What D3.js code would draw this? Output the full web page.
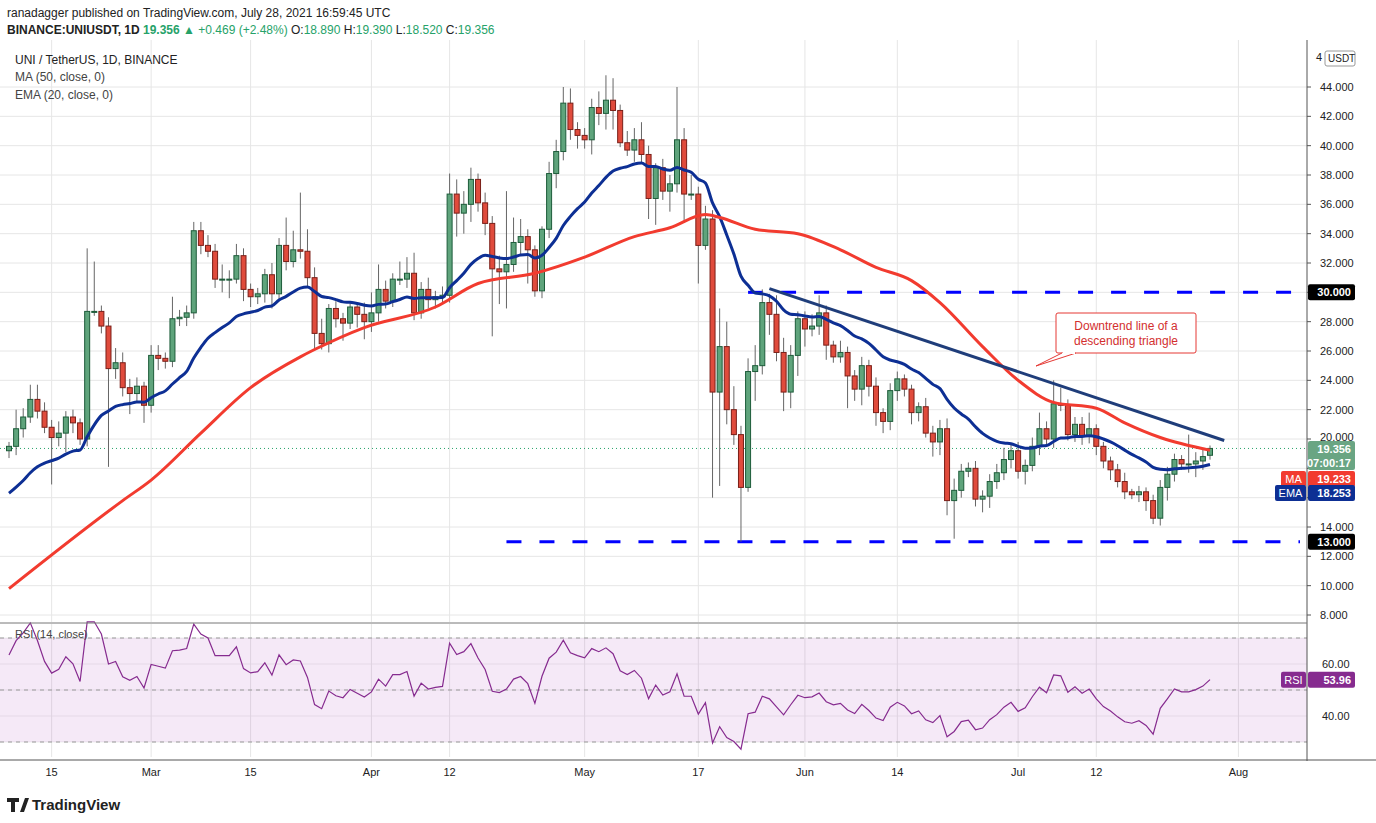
<!DOCTYPE html>
<html><head><meta charset="utf-8">
<script src="https://cdn.jsdelivr.net/npm/d3@7"></script>
<style>body{margin:0;background:#fff;font-family:"Liberation Sans",Arial,sans-serif}</style>
</head><body><svg id="c" width="1376" height="823"></svg>
<script>
// ---- data ----
const startDate = "2021-02-09";
const closes = [19.5,20.7,21.5,22.7,21.9,20.8,20.1,20.4,21.5,21.1,
20.0,28.7,28.7,27.7,24.8,25.2,23.5,23.1,23.6,22.3,
25.7,25.5,25.3,28.2,28.3,28.6,34.2,33.2,32.8,30.9,
30.9,30.9,32.5,30.2,29.7,29.9,31.2,29.9,33.2,32.1,
32.9,32.8,31.0,27.2,26.5,28.9,28.2,27.9,29.0,28.5,
28.0,28.6,30.2,29.4,30.9,30.9,31.3,28.6,30.2,29.5,
29.7,29.8,36.7,35.4,36.0,37.7,36.1,34.7,31.6,31.4,
31.9,33.4,33.8,32.9,30.1,34.3,38.1,39.6,42.9,41.1,
40.7,40.4,42.6,42.2,43.1,42.4,40.2,39.7,40.4,39.4,
36.4,38.5,36.9,37.4,40.4,36.7,36.7,33.2,35.0,23.2,
26.3,22.0,20.3,16.7,24.6,25.0,29.3,28.5,25.9,23.2,
25.7,28.2,27.5,27.7,28.6,26.4,25.6,25.9,24.3,23.4,
25.0,23.6,21.8,21.2,23.3,24.1,23.4,21.8,22.2,20.4,
19.8,20.7,15.8,16.5,17.8,18.0,15.9,16.1,17.1,17.7,
18.6,19.2,17.8,18.2,19.5,20.7,20.0,22.4,22.3,20.3,
21.0,20.2,20.7,19.5,18.5,17.9,17.1,16.4,16.2,16.4,
15.8,14.6,16.7,17.6,18.6,18.3,18.3,18.5,18.8,19.356];
const firstOpen = 19.2, lastOpen = 18.89;
// wick lengths above body / below body
const upWick = [0.3,1.3,0.6,1.0,1.0,0.6,0.5,0.8,0.4,0.5,
0.3,4.3,3.4,0.4,0.6,1.0,0.7,0.6,0.6,0.3,
0.7,0.7,0.4,1.5,0.5,0.5,0.6,0.6,0.7,0.5,
1.0,0.6,0.8,0.5,0.4,0.4,0.4,0.8,0.5,1.9,
1.3,3.9,1.5,0.7,1.0,0.3,0.5,0.4,0.4,0.3,
0.8,1.4,1.7,0.6,0.4,1.2,1.1,1.4,0.5,0.8,
0.4,0.6,1.4,1.0,0.9,0.8,0.4,0.7,0.5,0.9,
5.0,1.7,1.2,0.5,0.3,0.2,0.8,0.8,1.1,1.0,
0.5,0.5,0.6,1.1,1.7,1.5,0.4,0.8,0.8,1.2,
0.6,0.3,0.6,0.6,3.6,0.8,1.3,0.5,0.9,0.6,
2.6,1.7,1.6,0.6,0.9,1.4,0.9,0.6,1.3,1.0,
0.7,0.5,0.5,0.8,1.2,0.5,0.3,0.8,0.4,0.4,
0.6,0.4,0.6,0.3,0.5,0.5,0.3,0.3,0.3,0.6,
0.5,0.6,0.7,0.8,0.5,0.4,0.5,0.4,0.5,0.6,
0.8,0.4,0.6,0.4,0.6,1.1,0.5,1.6,1.1,0.4,
0.5,0.5,1.1,0.3,0.3,0.3,0.4,0.6,0.2,0.4,
0.3,0.4,0.5,0.5,0.4,0.3,2.0,0.6,0.6,0.2];
const downWick = [0.5,0.6,0.6,0.4,0.5,0.4,3.2,0.6,1.3,0.7,
0.4,0.5,0.3,0.5,6.7,0.7,0.6,1.4,0.6,1.2,
0.5,0.8,0.5,0.4,0.5,0.6,0.4,0.6,0.4,0.6,
0.9,1.3,0.3,0.8,0.7,0.5,0.6,1.0,0.5,0.6,
0.4,0.5,0.6,1.2,0.4,0.6,0.6,1.2,0.4,0.9,
1.2,0.7,0.6,0.5,0.4,0.4,0.6,0.5,0.4,0.6,
0.6,0.5,0.5,1.6,1.4,1.2,0.6,0.8,4.6,2.2,
2.5,0.5,0.8,2.3,0.4,0.5,0.6,1.0,0.6,0.7,
0.9,0.6,1.0,0.8,1.1,1.3,0.3,0.4,0.8,0.6,
1.4,1.8,0.6,1.4,0.6,1.8,0.4,2.6,0.3,7.2,
6.4,1.0,0.7,3.7,0.3,2.0,0.6,1.4,0.6,1.3,
1.1,1.4,1.2,0.5,0.6,1.0,0.4,0.4,2.2,0.8,
1.1,0.7,0.9,0.8,0.6,0.7,0.5,0.8,0.6,0.3,
1.0,0.9,1.0,2.6,0.5,0.4,0.5,0.9,0.8,0.5,
0.5,0.6,0.5,0.9,0.4,0.6,0.5,0.6,0.4,0.4,
0.5,0.6,0.5,0.6,0.5,0.7,0.4,0.5,0.3,0.5,
0.7,0.4,0.5,0.9,0.5,0.4,0.6,0.9,0.6,0.3];
// MA(50) read at sample days
const maDays = [0,16,20,27,34,41,43,50,60,66,74,81,88,93,98,100,105,111,117,122,127,131,137,142,147,153,157,162,169];
const maVals = [9.8,15.8,17.2,20.4,23.5,25.6,26.1,27.6,29.0,30.6,31.3,32.4,33.8,34.4,35.3,35.1,34.3,34.0,32.9,31.7,30.8,29.3,26.3,24.0,22.5,22.1,21.1,20.1,19.233];
const emaSeed = 16.3;
const rsiSeedGain = 0.33, rsiSeedLoss = 0.19;
const tickDates = ["2021-02-15","2021-03-01","2021-03-15","2021-04-01","2021-04-12","2021-05-01","2021-05-17","2021-06-01","2021-06-14","2021-07-01","2021-07-12","2021-08-01"];
const tickLabels = ["15","Mar","15","Apr","12","May","17","Jun","14","Jul","12","Aug"];
const priceTicks = [8,10,12,14,16,18,20,22,24,26,28,30,32,34,36,38,40,42,44];
const hiddenTickLabels = [16,18]; // covered by the price tags
const rsiTicks = [40,60];
const levels = [30,13];
const trend = {d0:107.2,p0:30.25,d1:171.5,p1:19.9};

// ---- build ----
const svg = d3.select("#c");
const parse = d3.utcParse("%Y-%m-%d");
const d0 = parse(startDate);
const day = i => d3.utcDay.offset(d0, i);
const candles = closes.map((c,i)=>{
  const o = i===0?firstOpen:(i===closes.length-1?lastOpen:closes[i-1]);
  return {date:day(i),o,c,h:Math.max(o,c)+upWick[i],l:Math.min(o,c)-downWick[i]};
});
const X0=0, X1=1307;
const x = d3.scaleUtc().domain([d0, day(169)]).range([9,1210]);
const y = d3.scaleLinear().domain([14,44]).range([527,87]);
const yr = d3.scaleLinear().domain([40,60]).range([716,664]);
const PT=40, PB=622, RT=624, RB=757;

// grid
const gg = svg.append("g").attr("stroke","#e6e6e6").attr("stroke-width",1);
priceTicks.forEach(t=>{ if(y(t)>PT && y(t)<PB) gg.append("line").attr("x1",X0).attr("x2",X1).attr("y1",y(t)).attr("y2",y(t)); });
[30,40,50,60,70].forEach(t=>gg.append("line").attr("x1",X0).attr("x2",X1).attr("y1",yr(t)).attr("y2",yr(t)).attr("stroke","#eee"));
tickDates.forEach(t=>{ const xx=x(parse(t)); gg.append("line").attr("x1",xx).attr("x2",xx).attr("y1",PT).attr("y2",PB); gg.append("line").attr("x1",xx).attr("x2",xx).attr("y1",RT).attr("y2",RB);});

// RSI band
svg.append("rect").attr("x",X0).attr("width",X1-X0).attr("y",yr(70)).attr("height",yr(30)-yr(70)).attr("fill","#9c27b0").attr("opacity",0.1);
[70,50,30].forEach(t=>svg.append("line").attr("x1",X0).attr("x2",X1).attr("y1",yr(t)).attr("y2",yr(t)).attr("stroke","#999").attr("stroke-dasharray","4,4"));

// level lines
svg.append("line").attr("x1",x(day(104.5))).attr("x2",1300).attr("y1",y(levels[0])).attr("y2",y(levels[0])).attr("stroke","#0000ff").attr("stroke-width",3).attr("stroke-dasharray","15,18");
svg.append("line").attr("x1",x(day(70))).attr("x2",1300).attr("y1",y(levels[1])).attr("y2",y(levels[1])).attr("stroke","#0000ff").attr("stroke-width",3).attr("stroke-dasharray","15,18");

// last price dotted
svg.append("line").attr("x1",X0).attr("x2",X1).attr("y1",y(19.356)).attr("y2",y(19.356)).attr("stroke","#26a269").attr("stroke-width",1).attr("stroke-dasharray","1,3");

// candles
const cg = svg.append("g");
candles.forEach(d=>{
  const xx = x(d.date), up = d.c>=d.o;
  cg.append("line").attr("x1",xx).attr("x2",xx).attr("y1",y(d.h)).attr("y2",y(d.l)).attr("stroke","#666");
  const top=y(Math.max(d.o,d.c)), bot=y(Math.min(d.o,d.c));
  cg.append("rect").attr("x",xx-2.5).attr("width",5).attr("y",top).attr("height",Math.max(1,bot-top))
    .attr("fill",up?"#5fa47c":"#e04b3c").attr("stroke",up?"#1d5c3a":"#7a1f18").attr("stroke-width",1);
});

// EMA 20
let e=emaSeed; const k=2/21;
const ema = closes.map((c,i)=>{ e = i===0?emaSeed:(c*k+e*(1-k)); return e; });
const line = d3.line().curve(d3.curveMonotoneX);
svg.append("path").attr("d",line(ema.map((v,i)=>[x(day(i)),y(v)]))).attr("fill","none").attr("stroke","#0d2f94").attr("stroke-width",3);
svg.append("path").attr("d",line(maDays.map((dd,i)=>[x(day(dd)),y(maVals[i])]))).attr("fill","none").attr("stroke","#f23b2f").attr("stroke-width",3);

// trendline
svg.append("line").attr("x1",x(day(trend.d0))).attr("y1",y(trend.p0)).attr("x2",x(day(trend.d1))).attr("y2",y(trend.p1)).attr("stroke","#1f3d7a").attr("stroke-width",3);

// RSI
let ag=rsiSeedGain, al=rsiSeedLoss;
const rsi = closes.map((c,i)=>{ if(i>0){const ch=c-closes[i-1]; ag=(ag*13+Math.max(ch,0))/14; al=(al*13+Math.max(-ch,0))/14;} return 100-100/(1+ag/al);});
svg.append("path").attr("d",d3.line()(rsi.map((v,i)=>[x(day(i)),yr(v)]))).attr("fill","none").attr("stroke","#862b8f").attr("stroke-width",1.2);

// frames
svg.append("line").attr("x1",X1).attr("x2",X1).attr("y1",PT).attr("y2",RB+4).attr("stroke","#555");
svg.append("line").attr("x1",0).attr("x2",X1).attr("y1",PB+1).attr("y2",PB+1).attr("stroke","#777");
svg.append("line").attr("x1",0).attr("x2",1376).attr("y1",RB+3).attr("y2",RB+3).attr("stroke","#555");

// axis labels
priceTicks.forEach(t=>{ const yy=y(t); if(yy<PT+10) return;
  svg.append("line").attr("x1",X1).attr("x2",X1+4).attr("y1",yy).attr("y2",yy).attr("stroke","#555");
  if(hiddenTickLabels.includes(t)) return;
  svg.append("text").attr("x",1320).attr("y",yy+(t===20?2:4)).text(d3.format(".3f")(t)).attr("font-size","11px").attr("fill","#222");});
svg.append("text").attr("x",1316).attr("y",61).text("4").attr("font-size","11px").attr("fill","#222");
svg.append("rect").attr("x",1325).attr("y",51).attr("width",30).attr("height",15).attr("fill","#fff").attr("stroke","#999").attr("rx",2);
svg.append("text").attr("x",1328).attr("y",62).text("USDT").attr("font-size","10px").attr("fill","#222");
rsiTicks.forEach(t=>svg.append("text").attr("x",1322).attr("y",yr(t)+4).text(t.toFixed(2)).attr("font-size","11px").attr("fill","#222"));
tickDates.forEach((t,i)=>svg.append("text").attr("x",x(parse(t))).attr("y",776).attr("text-anchor","middle").text(tickLabels[i]).attr("font-size","11px").attr("fill","#222"));

function tag(yy,txt,bg,fg,x0=1308,w=47){ svg.append("rect").attr("x",x0).attr("y",yy-8).attr("width",w).attr("height",16).attr("fill",bg).attr("rx",2);
  svg.append("text").attr("x",x0+w-4).attr("y",yy+4).attr("text-anchor","end").text(txt).attr("font-size","11px").attr("font-weight","bold").attr("fill",fg);}
function side(yy,txt,bg,w){ svg.append("rect").attr("x",1306-w).attr("y",yy-8).attr("width",w).attr("height",16).attr("fill",bg).attr("rx",2);
  svg.append("text").attr("x",1306-w/2).attr("y",yy+4).attr("text-anchor","middle").text(txt).attr("font-size","11px").attr("fill","#fff");}
tag(y(30),"30.000","#000","#fff");
tag(y(13),"13.000","#000","#fff");
svg.append("rect").attr("x",1308).attr("y",441).attr("width",47).attr("height",29).attr("fill","#6aa583").attr("rx",2);
svg.append("text").attr("x",1351).attr("y",453).attr("text-anchor","end").text("19.356").attr("font-size","11px").attr("font-weight","bold").attr("fill","#fff");
svg.append("text").attr("x",1351).attr("y",467).attr("text-anchor","end").text("07:00:17").attr("font-size","11px").attr("font-weight","bold").attr("fill","#fff");
side(479,"MA","#f23b2f",25);
tag(479,"19.233","#f23b2f","#fff");
side(493,"EMA","#0d2f94",31);
tag(493,"18.253","#0d2f94","#fff");
side(yr(53.96),"RSI","#862b8f",25);
tag(yr(53.96),"53.96","#862b8f","#fff");

// callout
svg.append("rect").attr("x",1056).attr("y",313).attr("width",140).attr("height",40).attr("fill","#fff").attr("stroke","#e53935").attr("rx",2);
svg.append("path").attr("d","M1062,353 L1036,366 L1076,353").attr("fill","#fff").attr("stroke","#e53935");
svg.append("line").attr("x1",1063).attr("x2",1075).attr("y1",353).attr("y2",353).attr("stroke","#fff").attr("stroke-width",2);
svg.append("text").attr("x",1126).attr("y",330).attr("text-anchor","middle").text("Downtrend line of a").attr("font-size","12px").attr("fill","#d32f2f");
svg.append("text").attr("x",1126).attr("y",345).attr("text-anchor","middle").text("descending triangle").attr("font-size","12px").attr("fill","#d32f2f");

// header
svg.append("text").attr("x",7).attr("y",17).text("ranadagger published on TradingView.com, July 28, 2021 16:59:45 UTC").attr("font-size","12px").attr("fill","#222");
const h2 = svg.append("text").attr("x",7).attr("y",34).attr("font-size","12px").attr("fill","#222");
h2.append("tspan").text("BINANCE:UNIUSDT, 1D ").attr("font-weight","bold");
h2.append("tspan").text("19.356 ").attr("fill","#26a269").attr("font-weight","bold");
h2.append("tspan").text("▲ +0.469 (+2.48%) ").attr("fill","#26a269");
h2.append("tspan").text("O:"); h2.append("tspan").text("18.890 ").attr("fill","#26a269");
h2.append("tspan").text("H:"); h2.append("tspan").text("19.390 ").attr("fill","#26a269");
h2.append("tspan").text("L:"); h2.append("tspan").text("18.520 ").attr("fill","#26a269");
h2.append("tspan").text("C:"); h2.append("tspan").text("19.356").attr("fill","#26a269");
svg.append("text").attr("x",15).attr("y",64).text("UNI / TetherUS, 1D, BINANCE").attr("font-size","12px").attr("fill","#222");
svg.append("text").attr("x",15).attr("y",81).text("MA (50, close, 0)").attr("font-size","12px").attr("fill","#444");
svg.append("text").attr("x",15).attr("y",99).text("EMA (20, close, 0)").attr("font-size","12px").attr("fill","#444");
svg.append("text").attr("x",15).attr("y",638).text("RSI (14, close)").attr("font-size","11px").attr("fill","#444");
// logo
svg.append("path").attr("d","M7,798 h12 v4 h-4 v10 h-4 v-10 h-4z M20,812 l5,-14 h4 l-5,14z").attr("fill","#222");
svg.append("text").attr("x",32).attr("y",810).text("TradingView").attr("font-size","15px").attr("font-weight","bold").attr("fill","#222");
</script></body></html>
